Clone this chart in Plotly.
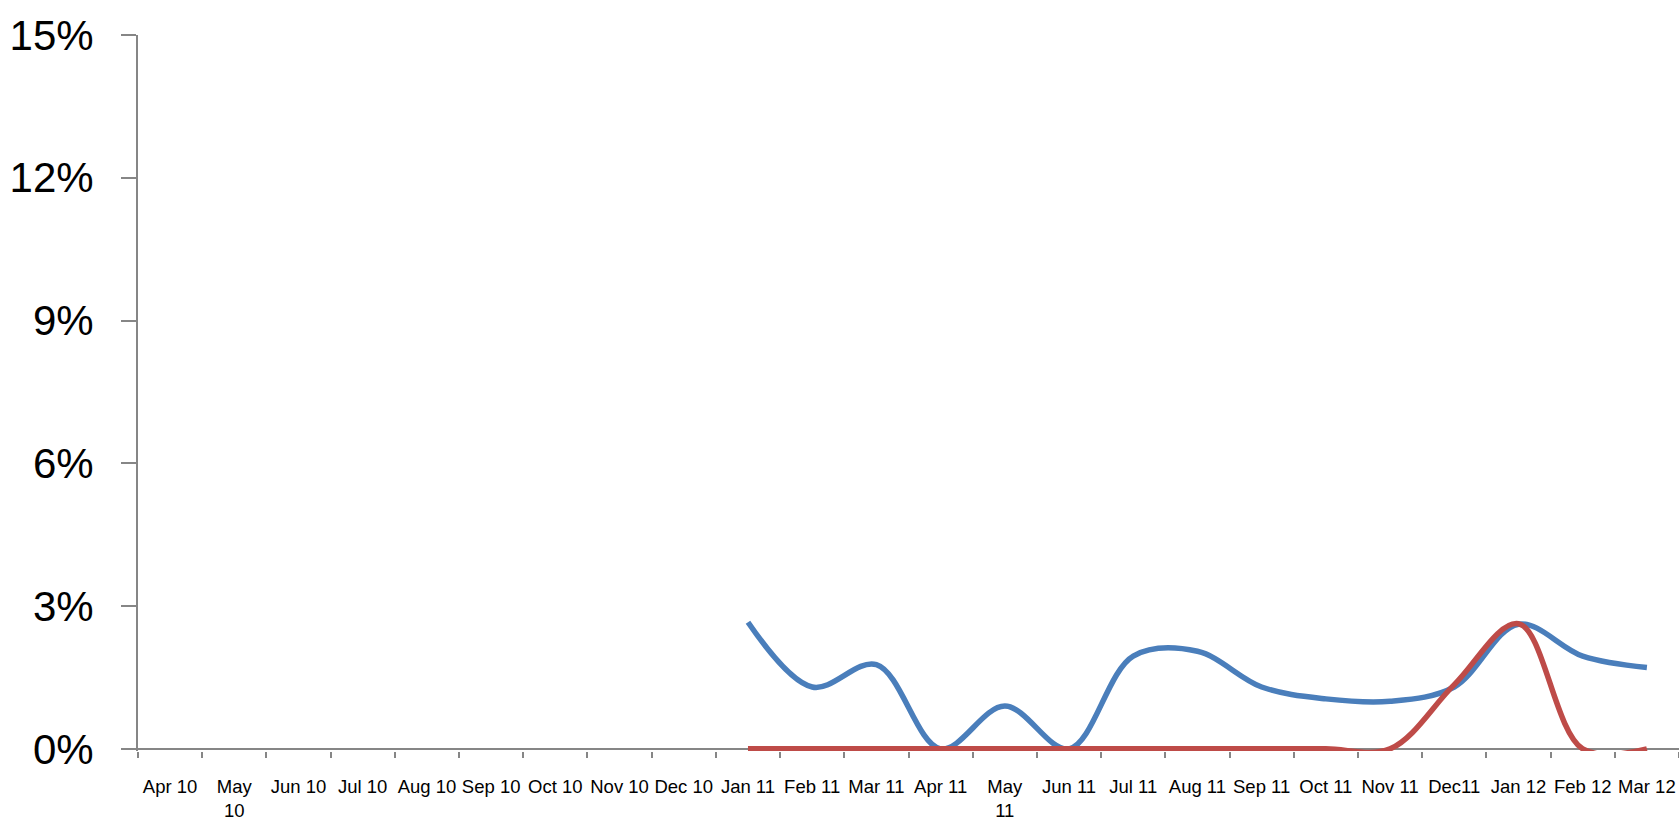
import plotly.graph_objects as go

months = ["Apr 10", "May<br>10", "Jun 10", "Jul 10", "Aug 10", "Sep 10", "Oct 10",
          "Nov 10", "Dec 10", "Jan 11", "Feb 11", "Mar 11", "Apr 11", "May<br>11",
          "Jun 11", "Jul 11", "Aug 11", "Sep 11", "Oct 11", "Nov 11", "Dec11",
          "Jan 12", "Feb 12", "Mar 12"]

blue_values = [None, None, None, None, None, None, None, None, None,
               2.66, 1.30, 1.77, 0.0, 0.90, 0.0, 1.95, 2.05, 1.30, 1.05, 1.00,
               1.30, 2.62, 1.95, 1.71]

red_values = [None, None, None, None, None, None, None, None, None,
              0.0, 0.0, 0.0, 0.0, 0.0, 0.0, 0.0, 0.0, 0.0, 0.0, 0.0,
              1.35, 2.63, 0.0, 0.0]

y_tick_values = [0, 3, 6, 9, 12, 15]
y_tick_labels = ["0%", "3%", "6%", "9%", "12%", "15%"]

AXIS = "#868686"
FONT = "Liberation Sans, Arial, sans-serif"

fig = go.Figure()
fig.add_trace(go.Scatter(x=months, y=blue_values, mode="lines",
                         line=dict(color="#4A7EBB", width=5.5, shape="spline", smoothing=1),
                         connectgaps=False, showlegend=False, hoverinfo="skip"))
fig.add_trace(go.Scatter(x=months, y=red_values, mode="lines",
                         line=dict(color="#BE4B48", width=5.5, shape="spline", smoothing=1),
                         connectgaps=False, showlegend=False, hoverinfo="skip"))

fig.update_layout(
    width=1679, height=821,
    margin=dict(l=138, r=0, t=35, b=69.6, autoexpand=False),
    paper_bgcolor="white", plot_bgcolor="white",
    showlegend=False,
    xaxis=dict(
        type="category", categoryorder="array", categoryarray=months,
        range=[-0.5, 23.5],
        tickson="boundaries", ticks="outside", ticklen=6, tickwidth=2, tickcolor=AXIS,
        showline=False, showgrid=False, zeroline=False,
        tickfont=dict(family=FONT, size=18.5, color="black"),
        ticklabelstandoff=22, tickangle=0,
    ),
    yaxis=dict(
        range=[-0.045, 15],
        tickmode="array", tickvals=y_tick_values, ticktext=y_tick_labels,
        ticks="outside", ticklen=15, tickwidth=2, tickcolor=AXIS,
        showline=True, linecolor=AXIS, linewidth=2,
        showgrid=False,
        zeroline=True, zerolinecolor=AXIS, zerolinewidth=2,
        tickfont=dict(family=FONT, size=42, color="black"),
        ticklabelstandoff=19,
    ),
)

fig.write_html(
    "out.html",
    config={"displayModeBar": False},
    post_script="document.body.style.margin='0';document.body.style.overflow='hidden';",
)
